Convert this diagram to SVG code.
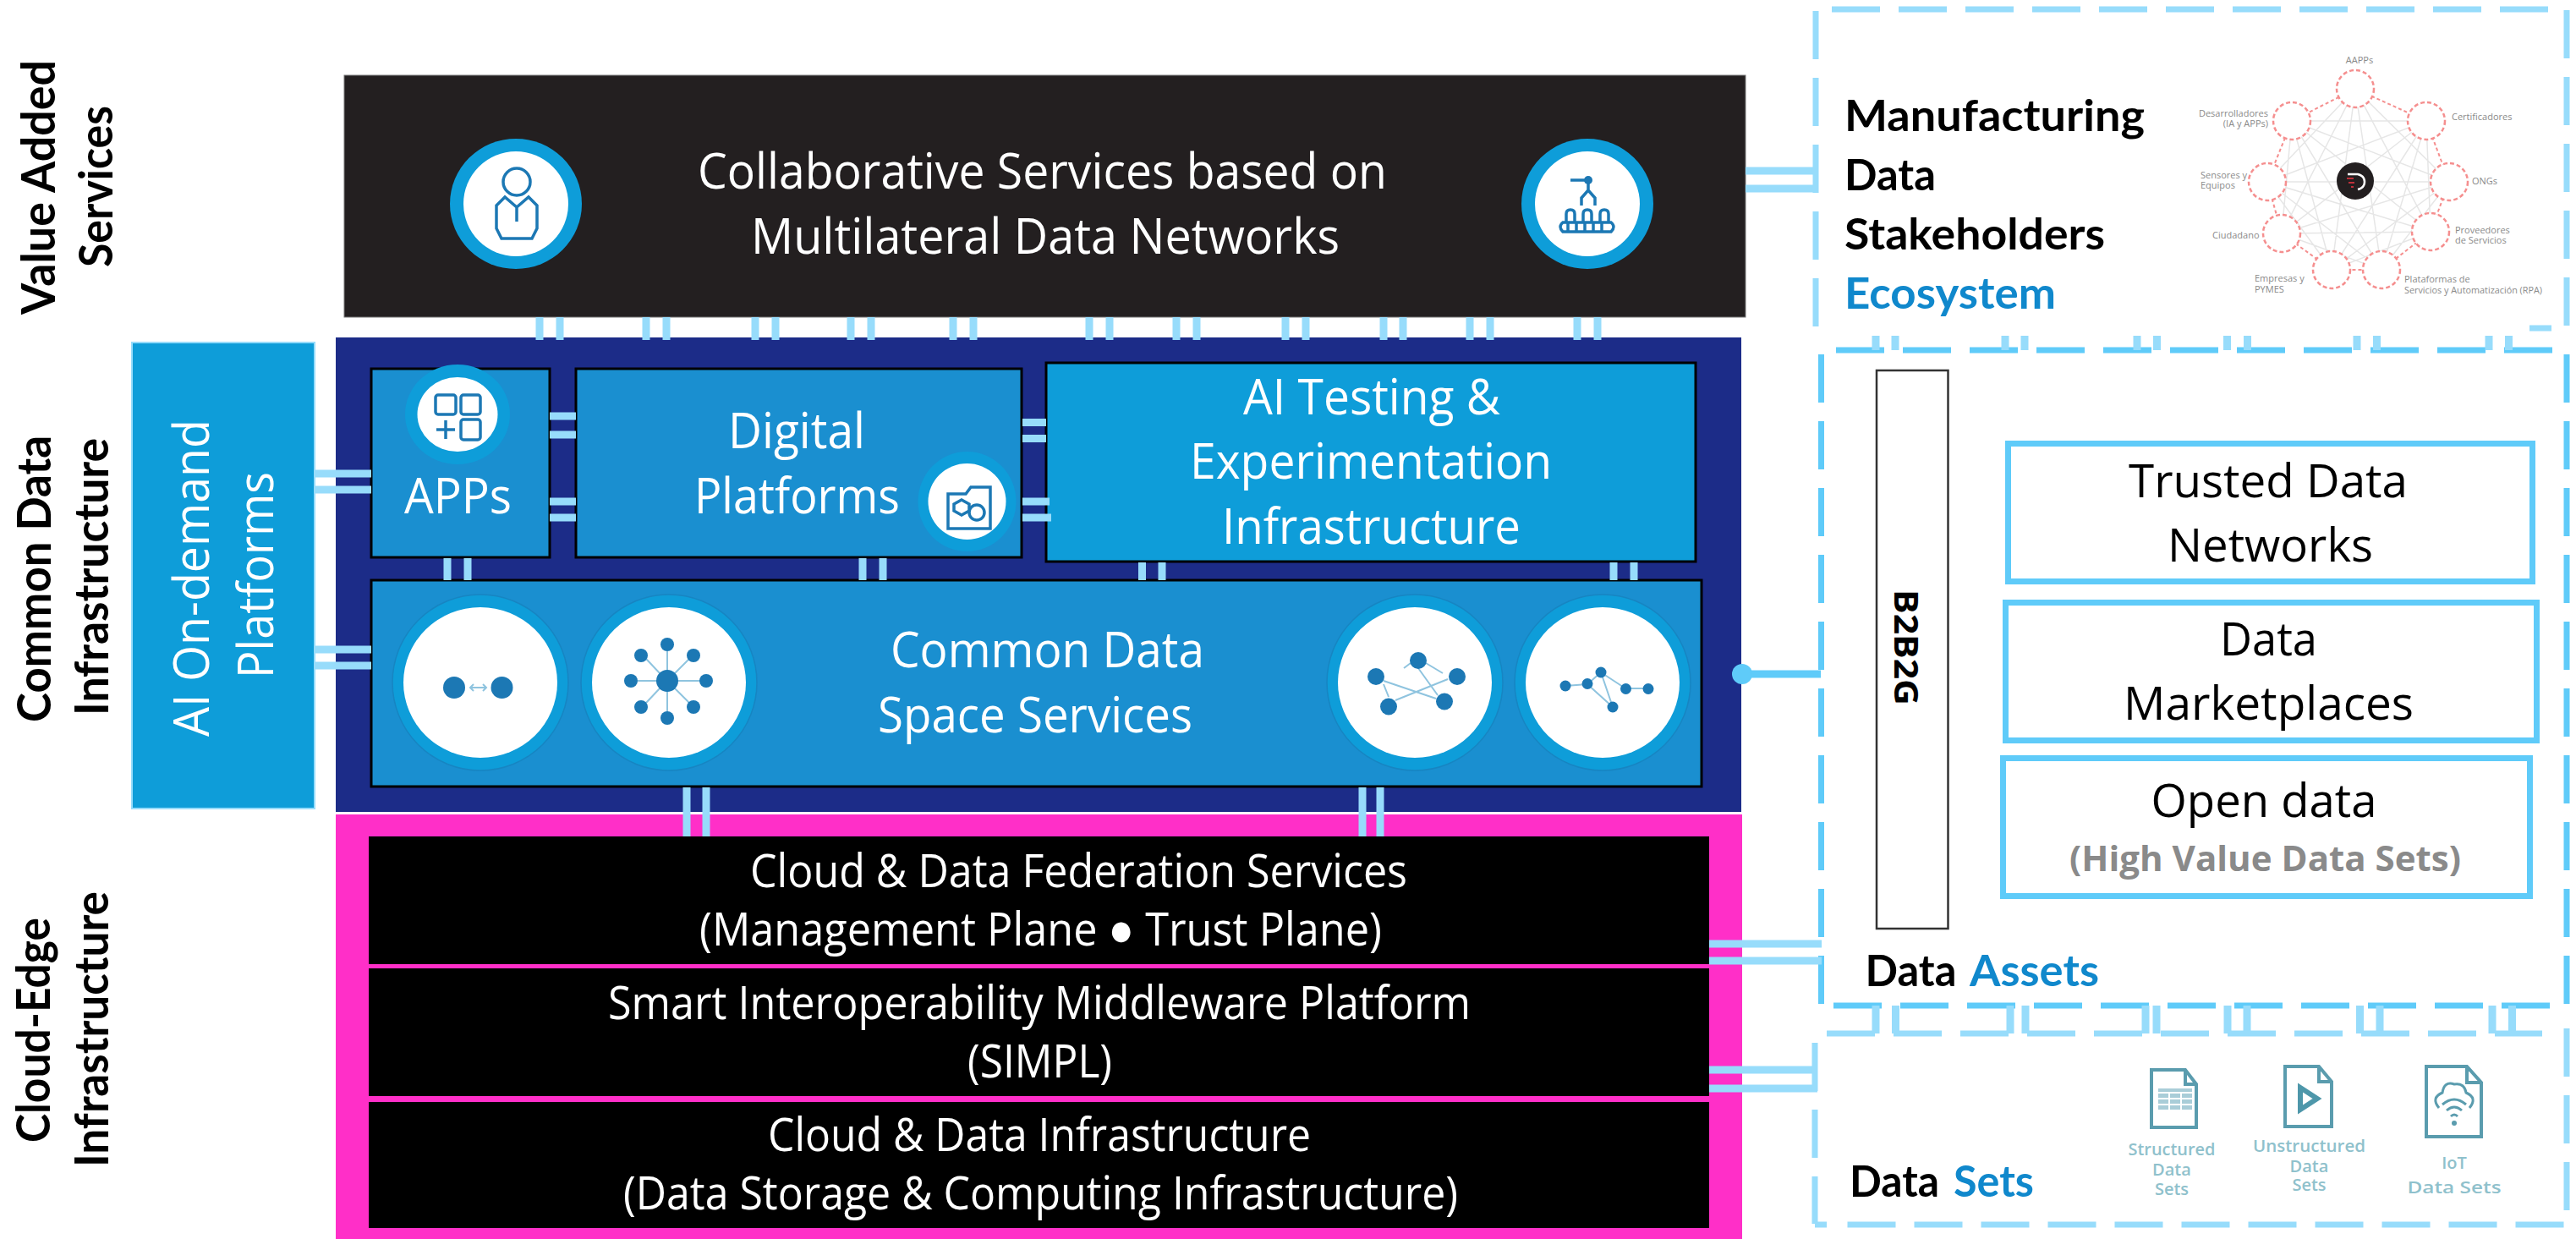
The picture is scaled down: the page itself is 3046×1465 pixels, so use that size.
<svg xmlns="http://www.w3.org/2000/svg" width="3046" height="1465" viewBox="0 0 3046 1465">
<style>
text{font-family:"Open Sans","Liberation Sans",sans-serif}
.w{fill:#fff;font-size:58px}
.m{fill:#fff;font-size:55px}
.b{fill:#000;font-size:54px}
.l{fill:#000;font-family:Lato,"Open Sans",sans-serif;font-weight:700;font-size:56px}
.h{fill:#000;font-family:Lato,"Open Sans",sans-serif;font-weight:700;font-size:52px}
.hb{fill:#1088cc;font-family:Lato,"Open Sans",sans-serif;font-weight:700;font-size:52px}
.s{fill:#8a8a8a;font-size:11px}
.d{fill:#8fc1cc;font-size:20px;font-weight:600;text-anchor:middle}
.box{fill:#1a8fd0;stroke:#000;stroke-width:3}
.out{fill:#0e9dd9}
.inn{fill:#fff}
.ring{fill:#0e9dd9;stroke:#1785c2;stroke-width:1.5}
.dot{fill:#1c78b4}
.ic{fill:none;stroke:#1c78b4;stroke-width:3.5}
.ar{fill:none;stroke:#8fc4df;stroke-width:2}
.asset{fill:#fff;stroke:#5fcbf9;stroke-width:7}
.c{stroke:#97dcfb;stroke-width:9;fill:none}
.cd{stroke:#5fcbf9;stroke-width:9;fill:none}
.fl{stroke:#97dcfb;stroke-width:7;fill:none;stroke-dasharray:57 22}
.fd{stroke:#5fcbf9;stroke-width:7;fill:none;stroke-dasharray:57 22}
.doc{fill:none;stroke:#5a9cae;stroke-width:4}
.rd{fill:#fff;stroke:#f58f8f;stroke-width:2.5;stroke-dasharray:5 3}
</style>

<rect width="3046" height="1465" fill="#fff"/>

<g id="labels">
<text class="l" transform="translate(64.5,372) rotate(-90)" textLength="301" lengthAdjust="spacingAndGlyphs">Value Added</text>
<text class="l" transform="translate(133,316) rotate(-90)" textLength="191" lengthAdjust="spacingAndGlyphs">Services</text>
<text class="l" transform="translate(59.5,854) rotate(-90)" textLength="339" lengthAdjust="spacingAndGlyphs">Common Data</text>
<text class="l" transform="translate(128,846) rotate(-90)" textLength="328" lengthAdjust="spacingAndGlyphs">Infrastructure</text>
<text class="l" transform="translate(59,1351) rotate(-90)" textLength="266" lengthAdjust="spacingAndGlyphs">Cloud-Edge</text>
<text class="l" transform="translate(128,1380) rotate(-90)" textLength="326" lengthAdjust="spacingAndGlyphs">Infrastructure</text>
</g>

<g id="value-added-services">
<rect x="407" y="89" width="1657" height="286" fill="#231f20" stroke="#777" stroke-width="1"/>
<text class="w" x="825" y="223" textLength="815" lengthAdjust="spacingAndGlyphs">Collaborative Services based on</text>
<text class="w" x="888" y="300" textLength="696" lengthAdjust="spacingAndGlyphs">Multilateral Data Networks</text>
<ellipse class="out" cx="610" cy="241" rx="78" ry="77"/><ellipse class="inn" cx="610" cy="241" rx="62" ry="62"/>
<ellipse class="ic" cx="611" cy="215" rx="16" ry="16"/>
<path class="ic" d="M597 233L587 243V270L593 282H629L635 270V243L625 233L611 245ZM611 245V262"/>
<ellipse class="out" cx="1877" cy="241" rx="78" ry="77"/><ellipse class="inn" cx="1877" cy="241" rx="62" ry="62"/>
<path class="ic" d="M1857 213H1876M1878 210V225M1878 225L1870 234V243M1878 225L1886 234V243"/>
<circle class="dot" cx="1878" cy="213" r="5"/>
<path class="ic" d="M1852 263V253Q1852 248 1857 248T1862 253V263M1872 263V253Q1872 248 1877 248T1882 253V263M1892 263V253Q1892 248 1897 248T1902 253V263"/>
<path class="ic" d="M1848 263H1905Q1911 268 1905 274H1848Q1842 268 1848 263ZM1854 264V273M1864 264V273M1874 264V273M1884 264V273M1894 264V273"/>
</g>

<g id="common-data-infrastructure">
<rect x="397" y="399" width="1662" height="561" fill="#1c2c88"/>
</g>

<g id="cloud-edge-infrastructure">
<rect x="397" y="963" width="1663" height="502" fill="#ff2fc8"/>
</g>

<g id="ai-on-demand">
<rect x="156" y="405" width="216" height="551" fill="#0e9dd9" stroke="#97dcfb" stroke-width="2"/>
<text class="w" transform="translate(247,871) rotate(-90)" textLength="375" lengthAdjust="spacingAndGlyphs">AI On-demand</text>
<text class="w" transform="translate(323,802) rotate(-90)" textLength="244" lengthAdjust="spacingAndGlyphs">Platforms</text>
</g>

<g id="apps">
<rect class="box" x="439" y="436" width="211" height="223"/>
<ellipse class="out" cx="541" cy="490" rx="62" ry="59"/><ellipse class="inn" cx="541" cy="490" rx="47.500" ry="44"/>
<rect class="ic" x="515" y="467" width="24" height="23" rx="3"/>
<rect class="ic" x="545" y="467" width="23" height="23" rx="3"/>
<rect class="ic" x="545" y="496" width="23" height="24" rx="3"/>
<path class="ic" d="M516 508H538M527 497V519"/>
<text class="w" x="478" y="607" textLength="127" lengthAdjust="spacingAndGlyphs">APPs</text>
</g>

<g id="digital-platforms">
<rect class="box" x="681" y="436" width="527" height="223"/>
<text class="w" x="861" y="530" textLength="162" lengthAdjust="spacingAndGlyphs">Digital</text>
<text class="w" x="821" y="607" textLength="243" lengthAdjust="spacingAndGlyphs">Platforms</text>
<ellipse class="out" cx="1143.500" cy="593" rx="58" ry="59"/><ellipse class="inn" cx="1143.500" cy="593" rx="46" ry="45"/>
<path class="ic" d="M1121 625V584H1142L1148 576H1171V625Z"/>
<circle class="ic" cx="1155" cy="606" r="9"/>
<path class="ic" d="M1128 596L1137 591L1146 596V604L1137 609L1128 604Z"/>
</g>

<g id="ai-testing">
<rect x="1237" y="429" width="768" height="235" fill="#0e9dd9" stroke="#000" stroke-width="3"/>
<text class="w" x="1470" y="490" textLength="304" lengthAdjust="spacingAndGlyphs">AI Testing &amp;</text>
<text class="w" x="1407" y="566" textLength="428" lengthAdjust="spacingAndGlyphs">Experimentation</text>
<text class="w" x="1445" y="643" textLength="353" lengthAdjust="spacingAndGlyphs">Infrastructure</text>
</g>

<g id="common-data-space-services">
<rect class="box" x="439" y="686" width="1573" height="244"/>
<text class="w" x="1053" y="789" textLength="371" lengthAdjust="spacingAndGlyphs">Common Data</text>
<text class="w" x="1038" y="866" textLength="372" lengthAdjust="spacingAndGlyphs">Space Services</text>
<ellipse class="ring" cx="568" cy="807" rx="104" ry="104"/><ellipse class="inn" cx="568" cy="807" rx="91" ry="89"/>
<circle class="dot" cx="537" cy="813" r="13"/><circle class="dot" cx="593.500" cy="813" r="13"/>
<path class="ar" d="M556 813H575M560 809L556 813L560 817M571 809L575 813L571 817"/>
<ellipse class="ring" cx="791" cy="807" rx="104" ry="104"/><ellipse class="inn" cx="791" cy="807" rx="91" ry="89"/>
<path class="ar" d="M789 770V795M789 815V842M754 805H779M799 805H828M764 779L781 797M815 779L797 797M764 831L781 813M815 831L797 813"/>
<circle class="dot" cx="789" cy="805" r="13"/>
<circle class="dot" cx="789" cy="762" r="8"/><circle class="dot" cx="820" cy="775" r="8"/><circle class="dot" cx="835" cy="805" r="8"/><circle class="dot" cx="820" cy="836" r="8"/>
<circle class="dot" cx="789" cy="849" r="8"/><circle class="dot" cx="758" cy="836" r="8"/><circle class="dot" cx="746" cy="805" r="8"/><circle class="dot" cx="758" cy="775" r="8"/>
<ellipse class="ring" cx="1673" cy="807" rx="104" ry="104"/><ellipse class="inn" cx="1673" cy="807" rx="91" ry="89"/>
<path class="ar" d="M1636 805L1698 826M1712 803L1650 828M1660 790L1668 784M1686 784L1706 796M1636 809L1642 824M1677 790L1700 822"/>
<circle class="dot" cx="1677" cy="781" r="10"/><circle class="dot" cx="1627" cy="800" r="10"/><circle class="dot" cx="1723" cy="800" r="10"/><circle class="dot" cx="1642" cy="835.500" r="10"/><circle class="dot" cx="1708" cy="829.500" r="10"/>
<ellipse class="ring" cx="1895" cy="807" rx="104" ry="104"/><ellipse class="inn" cx="1895" cy="807" rx="91" ry="89"/>
<path class="ar" d="M1851 811L1877 809M1877 809L1893 795M1877 809L1907 836M1893 795L1907 836M1893 795L1922 814M1922 814L1949 814"/>
<circle class="dot" cx="1851" cy="811" r="6.500"/><circle class="dot" cx="1877" cy="808.500" r="6.500"/><circle class="dot" cx="1893" cy="795" r="6.500"/><circle class="dot" cx="1922.500" cy="814.500" r="6.500"/><circle class="dot" cx="1949" cy="814.500" r="6.500"/><circle class="dot" cx="1907" cy="836" r="6.500"/>
</g>

<g id="cloud-data-federation">
<rect x="436" y="989" width="1585" height="151" fill="#000"/>
<text class="m" x="887" y="1049" textLength="777" lengthAdjust="spacingAndGlyphs">Cloud &amp; Data Federation Services</text>
<text class="m" x="827" y="1118" textLength="807" lengthAdjust="spacingAndGlyphs">(Management Plane ● Trust Plane)</text>
</g>
<g id="simpl">
<rect x="436" y="1145" width="1585" height="151" fill="#000"/>
<text class="m" x="719" y="1205" textLength="1020" lengthAdjust="spacingAndGlyphs">Smart Interoperability Middleware Platform</text>
<text class="m" x="1144" y="1274" textLength="171" lengthAdjust="spacingAndGlyphs">(SIMPL)</text>
</g>
<g id="cloud-data-infrastructure">
<rect x="436" y="1303" width="1585" height="149" fill="#000"/>
<text class="m" x="908" y="1361" textLength="642" lengthAdjust="spacingAndGlyphs">Cloud &amp; Data Infrastructure</text>
<text class="m" x="737" y="1430" textLength="987" lengthAdjust="spacingAndGlyphs">(Data Storage &amp; Computing Infrastructure)</text>
</g>

<g id="ecosystem">
<text class="h" x="2181" y="155" textLength="355" lengthAdjust="spacingAndGlyphs">Manufacturing</text>
<text class="h" x="2181" y="225" textLength="108" lengthAdjust="spacingAndGlyphs">Data</text>
<text class="h" x="2181" y="295" textLength="308" lengthAdjust="spacingAndGlyphs">Stakeholders</text>
<text class="hb" x="2181" y="365" textLength="250" lengthAdjust="spacingAndGlyphs">Ecosystem</text>
<path fill="none" stroke="#e6e6e6" stroke-width="1.500" d="M2785 105L2896 215M2785 105L2874 274M2785 105L2816 319M2785 105L2757 319M2785 105L2698 276M2785 105L2681 215M2869 143L2874 274M2869 143L2816 319M2869 143L2757 319M2869 143L2698 276M2869 143L2681 215M2869 143L2710 143M2896 215L2816 319M2896 215L2757 319M2896 215L2698 276M2896 215L2681 215M2896 215L2710 143M2874 274L2757 319M2874 274L2698 276M2874 274L2681 215M2874 274L2710 143M2816 319L2698 276M2816 319L2681 215M2816 319L2710 143M2757 319L2681 215M2757 319L2710 143M2698 276L2710 143"/>
<path fill="none" stroke="#f58f8f" stroke-width="2" stroke-dasharray="4 3" d="M2785 105L2869 143L2896 215L2874 274L2816 319L2757 319L2698 276L2681 215L2710 143Z"/>
<circle class="rd" cx="2785" cy="105" r="22"/><circle class="rd" cx="2869" cy="143" r="22"/><circle class="rd" cx="2896" cy="215" r="22"/>
<circle class="rd" cx="2874" cy="274" r="22"/><circle class="rd" cx="2816" cy="319" r="22"/><circle class="rd" cx="2757" cy="319" r="22"/>
<circle class="rd" cx="2698" cy="276" r="22"/><circle class="rd" cx="2681" cy="215" r="22"/><circle class="rd" cx="2710" cy="143" r="22"/>
<circle cx="2785" cy="214" r="22" fill="#231f20"/>
<path d="M2776 206H2788Q2796 208 2796 215T2788 224" fill="none" stroke="#fff" stroke-width="2.500"/>
<path d="M2775 211H2783M2777 216H2784M2780 221H2783" stroke="#c0303a" stroke-width="2" fill="none"/>
<text class="s" x="2790" y="75" text-anchor="middle">AAPPs</text>
<text class="s" x="2682" y="138" text-anchor="end">Desarrolladores</text>
<text class="s" x="2682" y="150" text-anchor="end">(IA y APPs)</text>
<text class="s" x="2899" y="142">Certificadores</text>
<text class="s" x="2602" y="211">Sensores y</text>
<text class="s" x="2602" y="223">Equipos</text>
<text class="s" x="2923" y="218">ONGs</text>
<text class="s" x="2616" y="282">Ciudadano</text>
<text class="s" x="2903" y="276">Proveedores</text>
<text class="s" x="2903" y="288">de Servicios</text>
<text class="s" x="2666" y="333">Empresas y</text>
<text class="s" x="2666" y="346">PYMES</text>
<text class="s" x="2843" y="334">Plataformas de</text>
<text class="s" x="2843" y="347" textLength="163" lengthAdjust="spacingAndGlyphs">Servicios y Automatización (RPA)</text>
</g>

<g id="b2b2g">
<rect x="2219" y="438" width="84.500" height="660" fill="#fff" stroke="#333" stroke-width="2.500"/>
<text font-size="40" font-weight="700" fill="#000" transform="translate(2240,697) rotate(90)" textLength="137" lengthAdjust="spacingAndGlyphs">B2B2G</text>
</g>
<g id="trusted-data-networks">
<rect class="asset" x="2374.500" y="524.500" width="620" height="163"/>
<text class="b" x="2517" y="587.500" textLength="330" lengthAdjust="spacingAndGlyphs">Trusted Data</text>
<text class="b" x="2563" y="664" textLength="243" lengthAdjust="spacingAndGlyphs">Networks</text>
</g>
<g id="data-marketplaces">
<rect class="asset" x="2371.500" y="712.500" width="628" height="163"/>
<text class="b" x="2625" y="775" textLength="115" lengthAdjust="spacingAndGlyphs">Data</text>
<text class="b" x="2511" y="851" textLength="343" lengthAdjust="spacingAndGlyphs">Marketplaces</text>
</g>
<g id="open-data">
<rect class="asset" x="2368.500" y="896.500" width="623" height="163"/>
<text class="b" x="2543.500" y="966" textLength="267" lengthAdjust="spacingAndGlyphs">Open data</text>
<text font-size="42" font-weight="700" fill="#8a8a8a" x="2447" y="1030" textLength="463" lengthAdjust="spacingAndGlyphs">(High Value Data Sets)</text>
</g>
<g id="data-assets">
<text class="h" x="2205.500" y="1166" textLength="108" lengthAdjust="spacingAndGlyphs">Data</text>
<text class="hb" x="2329" y="1166" textLength="153" lengthAdjust="spacingAndGlyphs">Assets</text>
</g>

<g id="data-sets">
<text class="h" x="2187" y="1415" textLength="106" lengthAdjust="spacingAndGlyphs">Data</text>
<text class="hb" x="2310" y="1415" textLength="95" lengthAdjust="spacingAndGlyphs">Sets</text>
<path class="doc" d="M2544 1333V1265H2584L2597 1282V1333ZM2584 1265V1282H2597"/>
<rect x="2552" y="1287" width="40" height="25" fill="#a9cdd8"/>
<path d="M2552 1292H2592M2552 1299H2592M2552 1306H2592M2565 1292V1312M2579 1292V1312" stroke="#fff" stroke-width="2" fill="none"/>
<path class="doc" d="M2702 1332V1261H2742L2757 1279V1332ZM2742 1261V1279H2757"/>
<path d="M2720 1286L2740 1299L2720 1312Z" fill="none" stroke="#4e97aa" stroke-width="6"/>
<path class="doc" d="M2869 1344V1261H2917L2934 1280V1344ZM2917 1261V1280H2934"/>
<path d="M2884 1310Q2874 1298 2888 1292Q2890 1278 2902 1282Q2914 1280 2916 1292Q2930 1298 2920 1310" fill="none" stroke="#5a9cae" stroke-width="3"/>
<path d="M2888 1306Q2902 1294 2916 1306M2893 1313Q2902 1305 2911 1313M2898 1320Q2902 1316 2906 1320" fill="none" stroke="#5a9cae" stroke-width="3"/>
<circle cx="2902" cy="1328" r="3" fill="#5a9cae"/>
<text class="d" x="2568" y="1366" textLength="103" lengthAdjust="spacingAndGlyphs">Structured</text>
<text class="d" x="2568" y="1390">Data</text>
<text class="d" x="2568" y="1413">Sets</text>
<text class="d" x="2730.500" y="1362" textLength="133" lengthAdjust="spacingAndGlyphs">Unstructured</text>
<text class="d" x="2730.500" y="1386">Data</text>
<text class="d" x="2730.500" y="1408">Sets</text>
<text class="d" x="2902" y="1382">IoT</text>
<text class="d" x="2902" y="1411" textLength="111" lengthAdjust="spacingAndGlyphs">Data Sets</text>
</g>

<g id="frames">
<path class="fl" d="M2166 11H3013M2147 13V388M3035 12V385M2991 388H3017"/>
<path class="fd" d="M2171 414H3019M2153.500 419V1187M3035 419V1187M2168 1189H3015"/>
<path class="fl" d="M2160 1222H3006M2146 1233V1447M3035 1216V1433M2184.500 1448H3035M2146 1448H2160"/>
</g>

<g id="connectors">
<path class="c" d="M638 375V402M662 375V402M764 375V402M788 375V402M893 375V402M917 375V402M1006 375V402M1030 375V402M1127 375V402M1151 375V402M1288 375V402M1312 375V402M1391 375V402M1415 375V402M1520 375V402M1544 375V402M1636 375V402M1659 375V402M1738 375V402M1762 375V402M1865 375V402M1889 375V402"/>
<path class="c" d="M372 560H439M372 579H439M372 768H439M372 787H439"/>
<path class="c" d="M650 492H681M650 514H681M650 593H681M650 612H681M1209 499.500H1237M1209 518.500H1237M1209 593H1241M1209 612H1243"/>
<path class="c" d="M529 660V686M553 660V686M1020 660V686M1044 660V686M1350.500 665V686M1374 665V686M1908 665V686M1932 665V686"/>
<path class="c" d="M812 931V989M835 931V989M1611 931V989M1632 931V989"/>
<path class="c" d="M2064 202H2147M2064 223H2147M2021 1116H2154M2021 1136H2154M2021 1265H2149M2021 1287H2149"/>
<path class="c" d="M2218 397V414M2241 397V414M2371 397V414M2394 397V414M2527 397V414M2550.500 397V414M2633.500 397V414M2657.500 397V414M2787 397V414M2810.500 397V414M2943 397V414M2966.500 397V414"/>
<path class="c" d="M2218 1189V1222M2241.500 1189V1222M2377 1189V1222M2395 1189V1222M2537 1189V1222M2550 1189V1222M2634 1189V1222M2657 1189V1222M2790.500 1189V1222M2814 1189V1222M2947 1189V1222M2970.500 1189V1222"/>
<path class="cd" d="M2060 797H2153"/>
<circle cx="2060" cy="797" r="12" fill="#5fcbf9"/>
</g>
</svg>
